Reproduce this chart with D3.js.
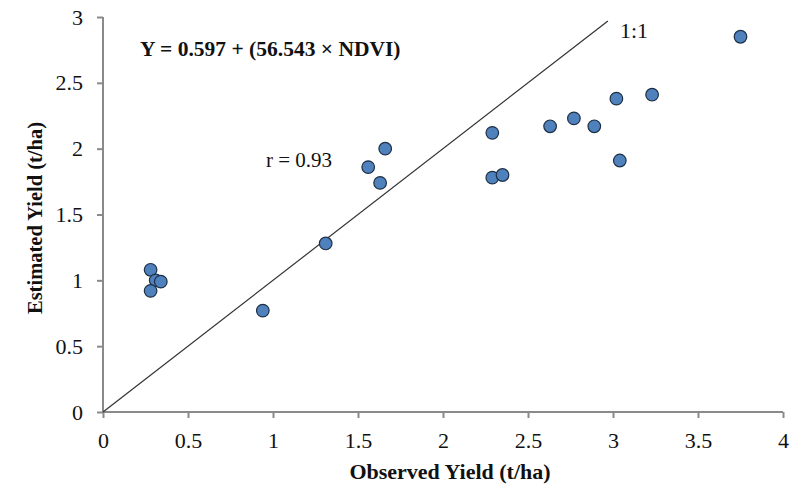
<!DOCTYPE html>
<html lang="en">
<head>
<meta charset="utf-8">
<title>Observed vs Estimated Yield</title>
<style>
  body { margin: 0; background: #fff; }
  text { font-family: "Liberation Serif", "Times New Roman", serif; }
</style>
</head>
<body>
<script src="https://d3js.org/d3.v7.min.js"></script>
<script>

// data (t/ha)
var observed  = [0.28, 0.31, 0.34, 0.28, 0.94, 1.31, 1.56, 1.63, 1.66, 2.29, 2.29, 2.35, 2.63, 2.77, 2.89, 3.02, 3.04, 3.23, 3.75];
var estimated = [1.08, 1.00, 0.99, 0.92, 0.77, 1.28, 1.86, 1.74, 2.00, 2.12, 1.78, 1.80, 2.17, 2.23, 2.17, 2.38, 1.91, 2.41, 2.85];
var xTicks = [0, 0.5, 1, 1.5, 2, 2.5, 3, 3.5, 4];
var yTicks = [0, 0.5, 1, 1.5, 2, 2.5, 3];
var oneToOne = [0, 2.97];

var margin = {top: 17, right: 17, bottom: 75, left: 103},
    width = 800 - margin.left - margin.right,
    height = 487 - margin.top - margin.bottom;

var svg = d3.select("body").append("svg")
    .attr("width", 800)
    .attr("height", 487);

var g = svg.append("g")
    .attr("transform", "translate(" + margin.left + "," + margin.top + ")");

var xScale = d3.scaleLinear().domain([0, 4]).range([0, width]);
var yScale = d3.scaleLinear().domain([0, 3]).range([height, 0]);

var xAxis = d3.axisBottom(xScale).tickValues(xTicks).tickSize(6).tickPadding(14)
    .tickFormat(d3.format("~g"));
var yAxis = d3.axisLeft(yScale).tickValues(yTicks).tickSize(6).tickPadding(14)
    .tickFormat(d3.format("~g"));

var xg = g.append("g").attr("transform", "translate(0," + height + ")").call(xAxis);
var yg = g.append("g").call(yAxis);

[xg, yg].forEach(function(a) {
  a.select(".domain").attr("stroke", "#8a8a8a").attr("stroke-width", 2);
  a.selectAll(".tick line").attr("stroke", "#8a8a8a").attr("stroke-width", 2);
  a.selectAll(".tick text")
    .attr("font-family", "Liberation Serif, serif")
    .attr("font-size", 22)
    .attr("fill", "#111");
});
// remove outer tick stubs on the domain path
xg.select(".domain").attr("d", "M0,0H" + width);
yg.select(".domain").attr("d", "M0," + height + "V0");

// 1:1 line
g.append("line")
  .attr("x1", xScale(oneToOne[0])).attr("y1", yScale(oneToOne[0]))
  .attr("x2", xScale(oneToOne[1])).attr("y2", yScale(oneToOne[1]))
  .attr("stroke", "#333").attr("stroke-width", 1.2);

g.append("text")
  .attr("x", xScale(oneToOne[1]) + 12)
  .attr("y", yScale(oneToOne[1]) + 17)
  .attr("font-size", 22)
  .attr("fill", "#111")
  .text("1:1");

// points
g.selectAll("circle")
  .data(observed)
  .enter()
  .append("circle")
  .attr("cx", function(d) { return xScale(d); })
  .attr("cy", function(d, i) { return yScale(estimated[i]); })
  .attr("r", 6.3)
  .attr("fill", "#4f81bd")
  .attr("stroke", "#1e2f45")
  .attr("stroke-width", 1.2);

// annotations
g.append("text")
  .attr("x", 37).attr("y", 39)
  .attr("font-size", 21.5)
  .attr("font-weight", "bold")
  .attr("fill", "#111")
  .text("Y = 0.597 + (56.543 \u00d7 NDVI)");

g.append("text")
  .attr("x", 163).attr("y", 150)
  .attr("font-size", 21)
  .attr("fill", "#111")
  .text("r = 0.93");

// axis titles
svg.append("text")
  .attr("x", 450)
  .attr("y", 479)
  .attr("text-anchor", "middle")
  .attr("font-size", 22)
  .attr("font-weight", "bold")
  .attr("fill", "#111")
  .text("Observed Yield (t/ha)");

svg.append("text")
  .attr("transform", "translate(42,218) rotate(-90)")
  .attr("text-anchor", "middle")
  .attr("font-size", 20.5)
  .attr("font-weight", "bold")
  .attr("fill", "#111")
  .text("Estimated Yield (t/ha)");

</script>
</body>
</html>
